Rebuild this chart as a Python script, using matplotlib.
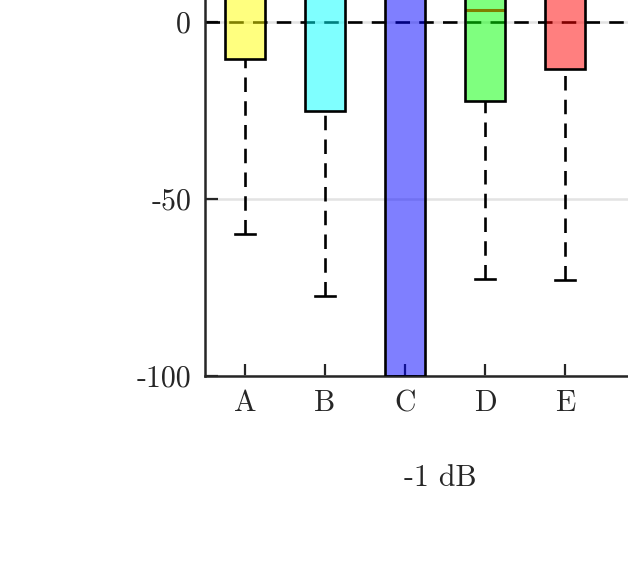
import numpy as np
import matplotlib.pyplot as plt
from matplotlib.colors import to_rgba

# --- data ---
groups = ["A", "B", "C", "D", "E"]
q1 = [-10.5, -25.0, -100.0, -22.3, -13.3]
med = [12.0, 10.0, 15.0, 3.4, 9.0]
q3 = [30.0, 35.0, 120.0, 25.0, 28.0]
whis_lo = [-60.0, -77.5, -100.0, -72.5, -73.0]
whis_hi = [60.0, 70.0, 120.0, 60.0, 55.0]
box_colors = ["yellow", "cyan", "blue", "lime", "red"]
yticks = [-100, -50, 0]
ytick_labels = ["-100", "-50", "0"]
xlabel = "-1 dB"

plt.rcParams["font.family"] = "cmr10"
plt.rcParams["mathtext.fontset"] = "cm"
plt.rcParams["axes.unicode_minus"] = False

fig = plt.figure(figsize=(6.28, 5.63), dpi=100)
# axes run past the top and right edge of the picture
ax = fig.add_axes([205 / 628, 187 / 563, 470 / 628, 708 / 563])

stats = []
for i in range(len(groups)):
    stats.append(dict(label=groups[i], q1=q1[i], med=med[i], q3=q3[i],
                      whislo=whis_lo[i], whishi=whis_hi[i], fliers=[]))

dash = (0, (5.5, 3.5))
bp = ax.bxp(stats, positions=np.arange(1, len(groups) + 1), widths=0.5,
            patch_artist=True, showfliers=False,
            boxprops=dict(edgecolor="black", linewidth=1.9, zorder=3),
            medianprops=dict(color="red", linewidth=2.2, zorder=2.5),
            whiskerprops=dict(color="black", linewidth=1.9, linestyle=dash),
            capprops=dict(color="black", linewidth=1.9))

for patch, c in zip(bp["boxes"], box_colors):
    r, g, b, _ = to_rgba(c)
    patch.set_facecolor((r, g, b, 0.5))

# dashes start at the cap end, like the original
for w in bp["whiskers"]:
    xd, yd = w.get_data()
    w.set_data(xd[::-1], yd[::-1])

ax.axhline(0, color="black", linestyle=dash, linewidth=1.9, zorder=1.5)

ax.set_xlim(0.5, 6.375)
ax.set_ylim(-100, 100)
ax.set_yticks(yticks)
ax.set_yticklabels(ytick_labels)
ax.yaxis.grid(True, color="#e3e3e3", linewidth=1.8, zorder=0)
ax.set_axisbelow(True)

for s in ax.spines.values():
    s.set_linewidth(1.8)
    s.set_color("#262626")

ax.tick_params(direction="in", length=9, width=1.6, labelsize=21.5, pad=10,
               color="#262626", labelcolor="#262626")
ax.set_xlabel(xlabel, fontsize=21.5, labelpad=34, color="#262626")

fig.savefig("out.png", dpi=100)
